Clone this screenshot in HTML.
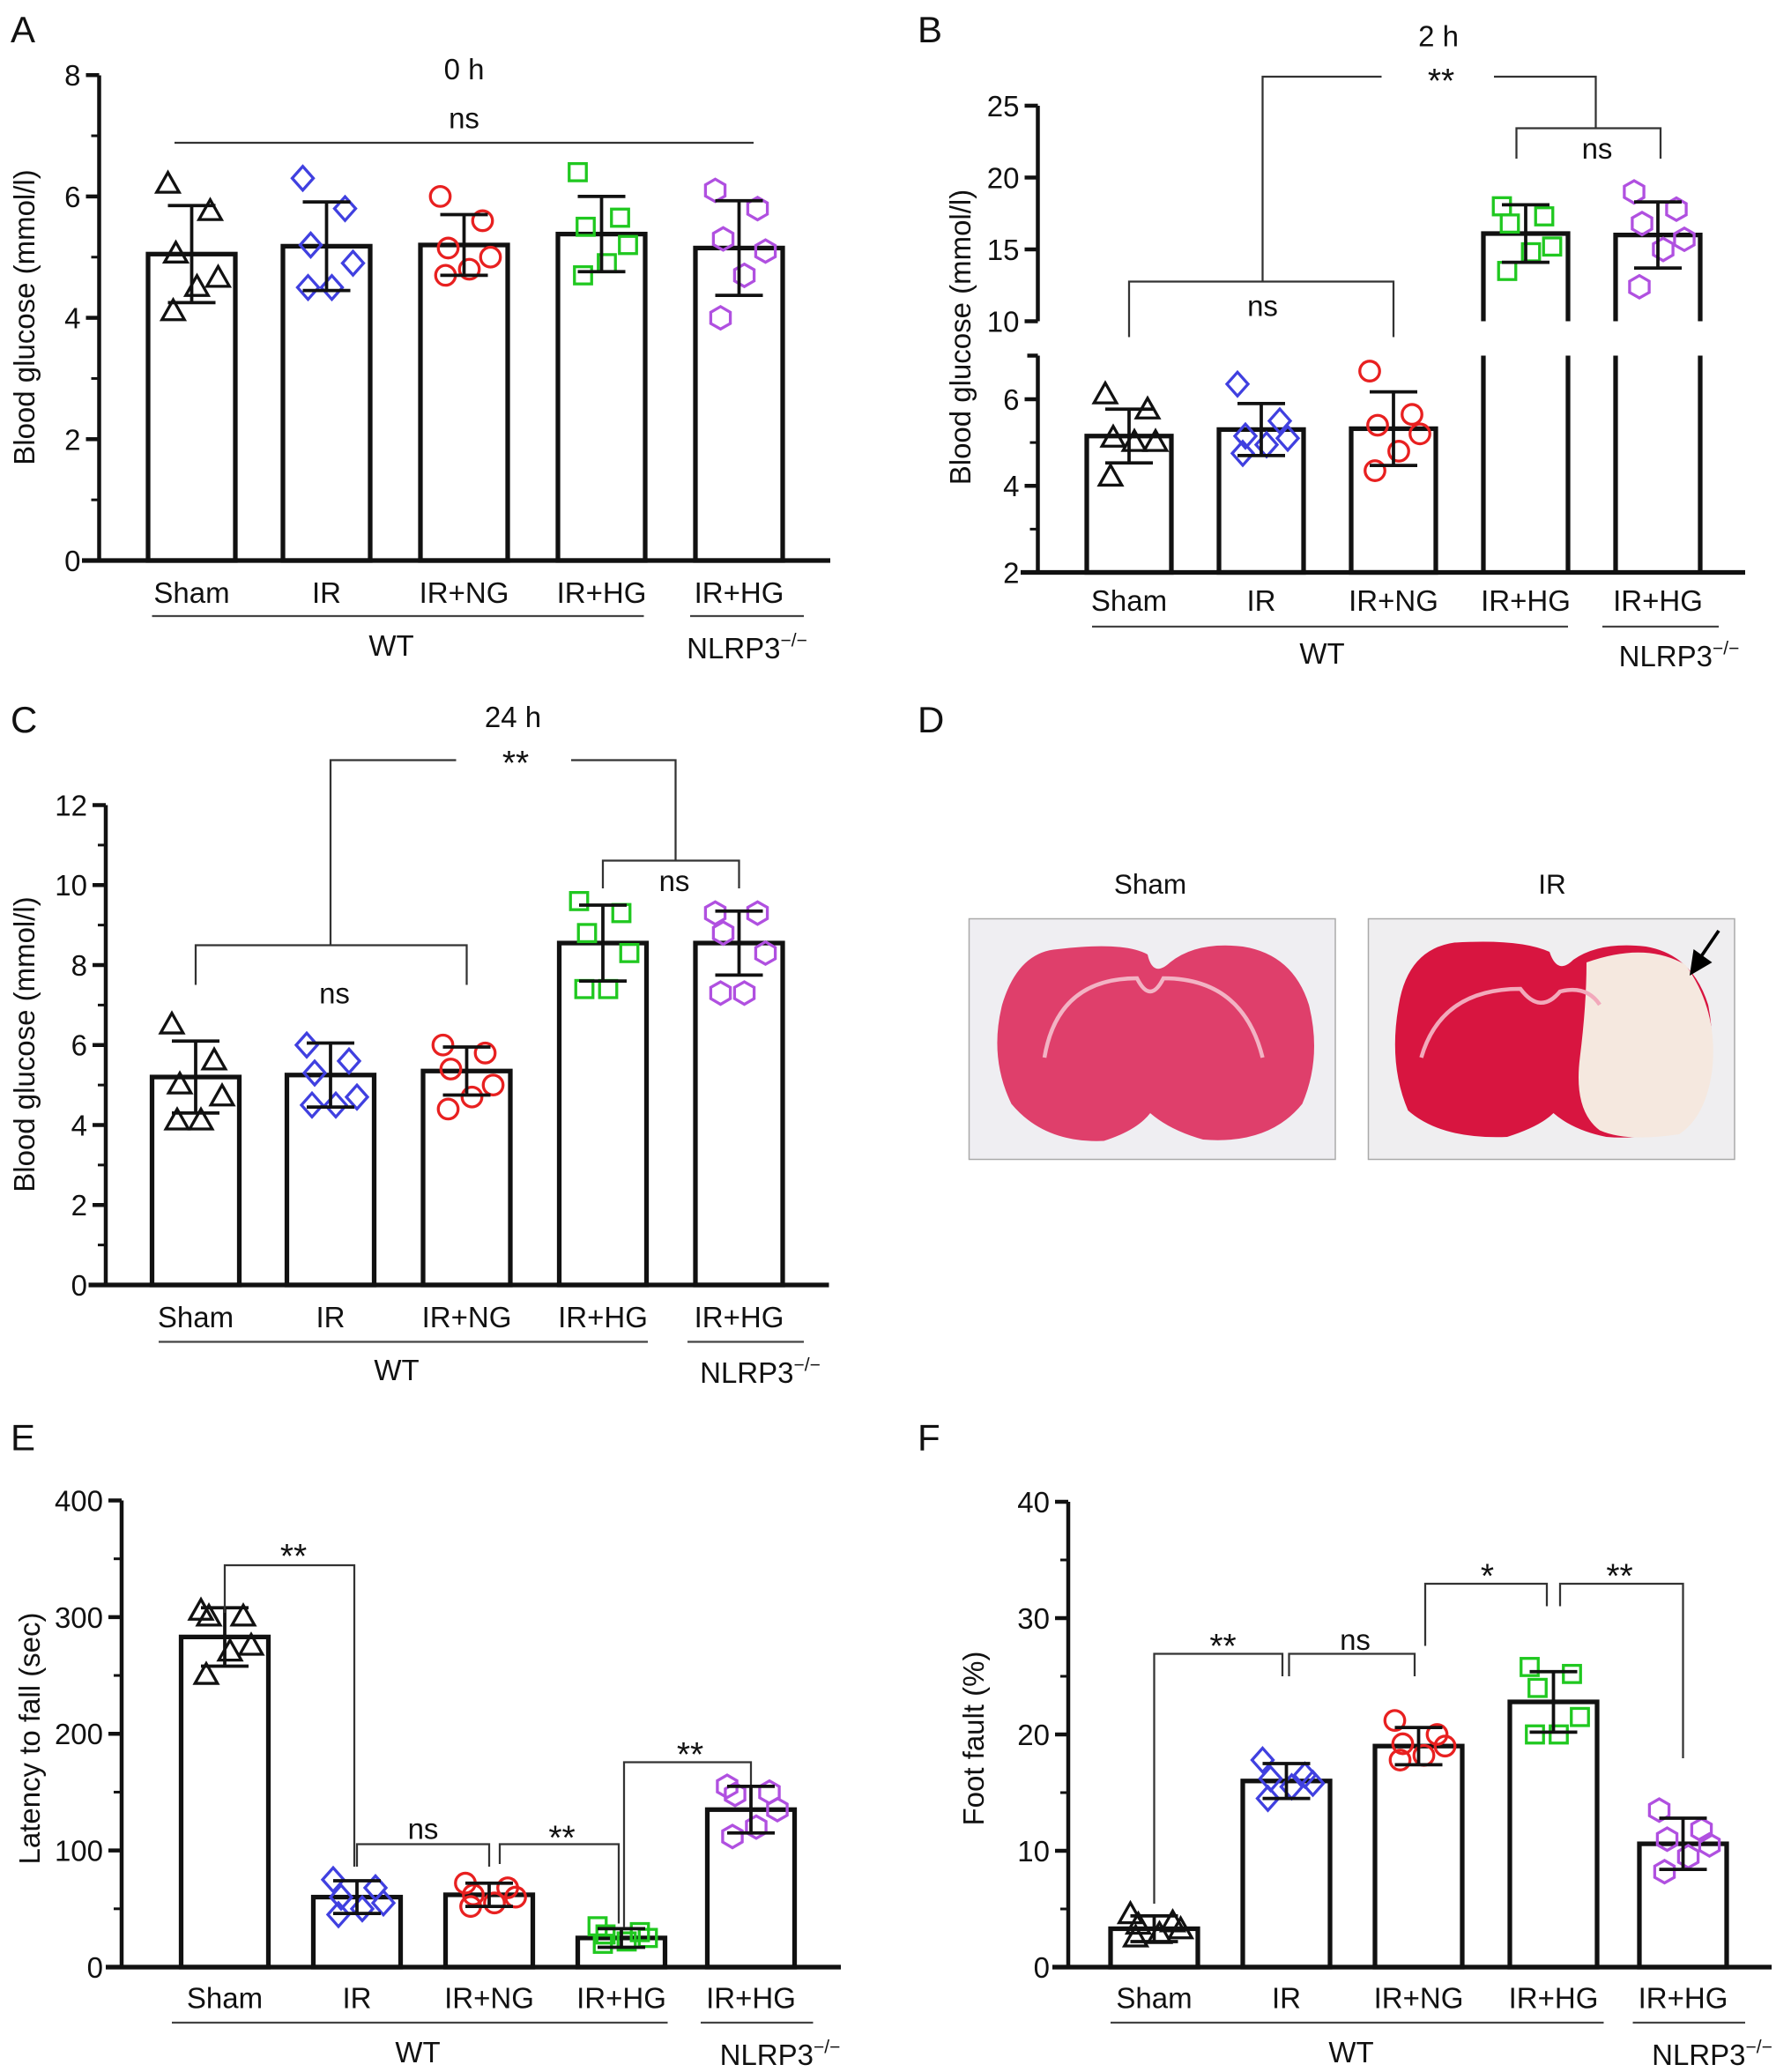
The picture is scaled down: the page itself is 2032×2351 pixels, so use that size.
<!DOCTYPE html>
<html><head><meta charset="utf-8">
<style>
html,body{margin:0;padding:0;background:#fff;}
svg{display:block;}
text{font-family:"Liberation Sans",Arial,sans-serif;fill:#111;}
</style></head>
<body>
<svg id="fig" xmlns="http://www.w3.org/2000/svg" width="2032" height="2351" viewBox="0 0 1354.67 1567.33">
<rect width="1354.67" height="1567.33" fill="#fff"/>
<g id="panelD">
  <text x="694" y="554" font-size="28">D</text>
  <text x="870" y="676" font-size="21" text-anchor="middle">Sham</text>
  <text x="1174" y="676" font-size="21" text-anchor="middle">IR</text>
  <g>
    <rect x="733" y="695" width="277" height="182" fill="#efeef2" stroke="#aaa" stroke-width="1"/>
    <path d="M800 718 Q770 720 758 760 Q748 800 765 835 Q790 865 835 863 Q860 855 870 842 Q885 855 910 862 Q960 866 985 835 Q1000 800 990 760 Q978 722 940 716 Q905 712 885 728 Q872 740 868 722 Q850 712 800 718 Z" fill="#df3f6b"/>
    <path d="M790 800 Q800 740 860 740 Q870 760 880 740 Q940 740 955 800" fill="none" stroke="#f2b3c4" stroke-width="3"/>
  </g>
  <g>
    <rect x="1035" y="695" width="277" height="182" fill="#efeef0" stroke="#aaa" stroke-width="1"/>
    <path d="M1100 713 Q1065 718 1058 760 Q1050 805 1065 840 Q1090 862 1140 860 Q1165 852 1175 842 Q1190 855 1215 860 Q1260 864 1285 838 Q1300 800 1292 760 Q1280 722 1245 716 Q1210 712 1190 726 Q1178 738 1172 720 Q1150 710 1100 713 Z" fill="#d81540"/>
    <path d="M1200 728 Q1245 712 1275 730 Q1300 765 1295 810 Q1290 845 1270 858 Q1230 864 1210 855 Q1190 840 1195 800 Q1200 760 1200 728 Z" fill="#f5e8df"/>
    <path d="M1075 800 Q1090 748 1150 748 Q1165 768 1180 750 Q1200 745 1210 760" fill="none" stroke="#f2a9bb" stroke-width="3"/>
    <line x1="1300" y1="704" x2="1285" y2="726" stroke="#000" stroke-width="2.5"/>
    <polygon points="1278,738 1281,718 1295,728" fill="#000"/>
  </g>
</g>
</svg>
<script>
// ---------- DATA ----------
const categories = ['Sham','IR','IR+NG','IR+HG','IR+HG'];
// Panel A (0 h)
const aMeans = [5.05, 5.18, 5.2, 5.38, 5.15];
const aSD = [0.8, 0.73, 0.5, 0.62, 0.78];
const aPoints = [[6.2,5.75,5.05,4.65,4.5,4.1],[6.3,5.8,5.2,4.9,4.5,4.5],[6.0,5.6,5.15,5.0,4.8,4.7],[6.4,5.65,5.5,5.2,4.9,4.7],[6.1,5.8,5.3,5.1,4.7,4.0]];
const aTicks = [0,2,4,6,8];
// Panel B (2 h)
const bMeans = [5.15, 5.3, 5.32, 16.1, 16.0];
const bSD = [0.62, 0.6, 0.85, 2.0, 2.3];
const bPoints = [[6.1,5.75,5.1,5.0,5.0,4.2],[6.35,5.5,5.15,5.1,4.95,4.75],[6.65,5.65,5.4,5.2,4.8,4.35],[18.0,17.3,16.8,15.2,14.8,13.5],[19.0,17.8,16.8,15.7,15.0,12.4]];
const bTicksLow = [2,4,6];
const bTicksHigh = [10,15,20,25];
// Panel C (24 h)
const cMeans = [5.2, 5.25, 5.35, 8.55, 8.55];
const cSD = [0.9, 0.8, 0.6, 0.95, 0.8];
const cPoints = [[6.5,5.6,5.0,4.7,4.1,4.1],[6.0,5.6,5.3,4.7,4.5,4.5],[6.0,5.8,5.4,5.0,4.7,4.4],[9.6,9.3,8.8,8.3,7.4,7.4],[9.3,9.3,8.8,8.3,7.3,7.3]];
const cTicks = [0,2,4,6,8,10,12];
// Panel E (latency)
const eMeans = [283, 60, 62, 25, 135];
const eSD = [25, 14, 10, 8, 20];
const ePoints = [[305,300,300,275,270,250],[75,68,60,55,50,45],[72,68,62,60,55,52],[35,30,28,25,22,20],[155,150,148,135,120,112]];
const eTicks = [0,100,200,300,400];
// Panel F (foot fault)
const fMeans = [3.3, 16, 19, 22.8, 10.6];
const fSD = [1.1, 1.5, 1.6, 2.6, 2.2];
const fPoints = [[4.5,3.8,3.6,3.2,2.8,2.5],[17.8,16.5,16.2,15.8,15.5,14.5],[21.2,20.0,19.2,19.0,18.2,17.8],[25.8,25.2,24.0,21.5,20.0,20.0],[13.5,11.8,11.0,10.5,9.5,8.2]];
const fTicks = [0,10,20,30,40];

const colors = ['#111','#4040e0','#e82020','#20c820','#b050e0'];
const shapes = ['tri','dia','circ','sq','hex'];
const jit = [-18,14,-12,20,4,-14];

const svg = document.getElementById('fig');
const NS = 'http://www.w3.org/2000/svg';
function el(tag, attrs, parent){ const e=document.createElementNS(NS,tag); for(const k in attrs) e.setAttribute(k,attrs[k]); (parent||svg).appendChild(e); return e; }
function txt(x,y,s,size,anchor,parent){ const t=el('text',{x:x,y:y,'font-size':size,'text-anchor':anchor||'middle'},parent); t.textContent=s; return t; }
function line(x1,y1,x2,y2,w,parent,col){ return el('line',{x1:x1,y1:y1,x2:x2,y2:y2,stroke:col||'#111','stroke-width':w},parent); }

function marker(g,shape,cx,cy,col){
  const a={fill:'none',stroke:col,'stroke-width':2.2};
  let m;
  if(shape==='tri') m=el('polygon',Object.assign({points:`${cx},${cy-9} ${cx-8.5},${cy+6} ${cx+8.5},${cy+6}`},a),g);
  else if(shape==='dia') m=el('polygon',Object.assign({points:`${cx},${cy-9} ${cx+8},${cy} ${cx},${cy+9} ${cx-8},${cy}`},a),g);
  else if(shape==='circ') m=el('circle',Object.assign({cx:cx,cy:cy,r:7.5},a),g);
  else if(shape==='sq') m=el('rect',Object.assign({x:cx-6.5,y:cy-6.5,width:13,height:13},a),g);
  else { let p=[]; for(let i=0;i<6;i++){const an=Math.PI/6+i*Math.PI/3; p.push((cx+8.5*Math.cos(an)).toFixed(1)+','+(cy+8.5*Math.sin(an)).toFixed(1));} m=el('polygon',Object.assign({points:p.join(' ')},a),g); }
  
  
}

function groupLabels(g,xs,labelY,lineY,wt,ko,wtX,koX,groupY){
  categories.forEach((c,i)=>{ const t=txt(xs[i],labelY,c,22,'middle',g);
    
     });
  line(wt[0],lineY,wt[1],lineY,1.5,g,'#444');
  line(ko[0],lineY,ko[1],lineY,1.5,g,'#444');
  const w=txt(wtX,groupY,'WT',22,'middle',g);
  
  
  const k=txt(koX,groupY+2,'NLRP3',22,'middle',g);
  
  
  const s=el('tspan',{'font-size':14,dy:-9},k); s.textContent='−/−';
}

function barsAndPoints(g,xs,bw,y,means,sd,pts,base,broken){
  means.forEach((m,i)=>{
    const x=xs[i], ym=y(m);
    if(broken && m>broken.hi){
      const b=el('path',{d:`M${x-bw/2},${base} V${broken.lowTop} M${x+bw/2},${base} V${broken.lowTop} M${x-bw/2},${broken.hiBot} V${ym} H${x+bw/2} V${broken.hiBot}`,fill:'none',stroke:'#111','stroke-width':3.5},g);
      
      
    } else {
      const b=el('rect',{x:x-bw/2,y:ym,width:bw,height:base-ym,fill:'#fff',stroke:'#111','stroke-width':3.5},g);
      
      
    }
  });
  means.forEach((m,i)=>{
    const x=xs[i];
    pts[i].forEach((v,j)=>marker(g,shapes[i],x+jit[j],y(v),colors[i]));
    const e=el('path',{d:`M${x},${y(m-sd[i])} V${y(m+sd[i])} M${x-18},${y(m+sd[i])} H${x+18} M${x-18},${y(m-sd[i])} H${x+18}`,stroke:'#111','stroke-width':2.5,fill:'none'},g);
    
    
  });
}

function yAxis(g,ax,y,ticks,minor,top,bottom,title,titleX,titleY){
  line(ax,bottom,ax,top,3,g);
  ticks.forEach(t=>{ line(ax-10,y(t),ax,y(t),3,g); txt(ax-14,y(t)+8,String(t),22,'end',g); });
  minor.forEach(t=>line(ax-6,y(t),ax,y(t),2,g));
  const tt=el('text',{x:titleX,y:titleY,'font-size':22,'text-anchor':'middle',transform:`rotate(-90 ${titleX} ${titleY})`},g);
  tt.textContent=title;
  
  
}
function bracket(g,x1,y1,x2,y2,top){ el('path',{d:`M${x1},${y1} V${top} H${x2} V${y2}`,fill:'none',stroke:'#333','stroke-width':1.5},g); }
function sig(g,x,yy,s,size){ const t=txt(x,yy,s,size||22,'middle',g);   return t; }
function panelGroup(name){ const g=el('g',{});   return g; }
function minorsBetween(ticks){ const r=[]; for(let i=0;i<ticks.length-1;i++) r.push((ticks[i]+ticks[i+1])/2); return r; }

// ---------- Panel A ----------
(function(){
  const g=panelGroup('panel-a-chart');
  txt(8,32,'A',28,'start',g);
  const y=v=>424-v*45.9;
  const xs=[145,247,351,455,559];
  yAxis(g,75,y,aTicks,minorsBetween(aTicks),57,424,'Blood glucose (mmol/l)',26,240);
  barsAndPoints(g,xs,66,y,aMeans,aSD,aPoints,424);
  line(62,424,628,424,3.5,g);
  groupLabels(g,xs,456,466,[115,487],[522,608],296,565,496);
  txt(351,60,'0 h',22,'middle',g);
  sig(g,351,97,'ns',22);
  line(132,108,570,108,1.5,g,'#333');
})();

// ---------- Panel B ----------
(function(){
  const g=panelGroup('panel-b-chart');
  txt(694,32,'B',28,'start',g);
  const y=v=> v<=8.5 ? 433-(v-2)*32.75 : 243-(v-10)*10.87;
  const xs=[854,954,1054,1154,1254];
  const ax=785;
  line(ax,433,ax,269,3,g); line(ax-8,269,ax,269,3,g);
  line(ax,243,ax,80,3,g);
  bTicksLow.forEach(t=>{ line(ax-10,y(t),ax,y(t),3,g); txt(ax-14,y(t)+8,String(t),22,'end',g); });
  [3,5].forEach(t=>line(ax-6,y(t),ax,y(t),2,g));
  bTicksHigh.forEach(t=>{ line(ax-10,y(t),ax,y(t),3,g); txt(ax-14,y(t)+8,String(t),22,'end',g); });
  const tt=el('text',{x:734,y:255,'font-size':22,'text-anchor':'middle',transform:'rotate(-90 734 255)'},g);
  tt.textContent='Blood glucose (mmol/l)';
  
  
  barsAndPoints(g,xs,64,y,bMeans,bSD,bPoints,433,{hi:8.5,lowTop:269,hiBot:243});
  line(772,433,1320,433,3.5,g);
  groupLabels(g,xs,462,474,[826,1186],[1212,1300],1000,1270,502);
  txt(1088,35,'2 h',22,'middle',g);
  sig(g,1090,70,'**',26);
  el('path',{d:'M955,213 V58 H1045 M1130,58 H1207 V97',fill:'none',stroke:'#333','stroke-width':1.5},g);
  bracket(g,854,255,1054,255,213);
  sig(g,955,239,'ns',22);
  bracket(g,1147,120,1256,120,97);
  sig(g,1208,120,'ns',22);
})();

// ---------- Panel C ----------
(function(){
  const g=panelGroup('panel-c-chart');
  txt(8,554,'C',28,'start',g);
  const y=v=>972-v*30.25;
  const xs=[148,250,353,456,559];
  yAxis(g,80,y,cTicks,minorsBetween(cTicks),609,972,'Blood glucose (mmol/l)',26,790);
  barsAndPoints(g,xs,66,y,cMeans,cSD,cPoints,972);
  line(67,972,627,972,3.5,g);
  groupLabels(g,xs,1004,1015,[120,490],[520,608],300,575,1044);
  txt(388,550,'24 h',22,'middle',g);
  sig(g,390,586,'**',26);
  el('path',{d:'M250,715 V575 H345 M432,575 H511 V651',fill:'none',stroke:'#333','stroke-width':1.5},g);
  bracket(g,148,745,353,745,715);
  sig(g,253,759,'ns',22);
  bracket(g,456,672,559,672,651);
  sig(g,510,674,'ns',22);
})();

// ---------- Panel E ----------
(function(){
  const g=panelGroup('panel-e-chart');
  txt(8,1097,'E',28,'start',g);
  const y=v=>1488-v*0.8825;
  const xs=[170,270,370,470,568];
  yAxis(g,92,y,eTicks,[50,150,250,350],1135,1488,'Latency to fall (sec)',30,1315);
  barsAndPoints(g,xs,66,y,eMeans,eSD,ePoints,1488);
  line(80,1488,636,1488,3.5,g);
  groupLabels(g,xs,1519,1530,[130,505],[530,615],316,590,1560);
  bracket(g,170,1220,268,1412,1184); sig(g,222,1186,'**',26);
  bracket(g,270,1412,370,1412,1395); sig(g,320,1391,'ns',22);
  bracket(g,378,1410,468,1455,1395); sig(g,425,1399,'**',26);
  bracket(g,472,1458,568,1350,1333); sig(g,522,1336,'**',26);
})();

// ---------- Panel F ----------
(function(){
  const g=panelGroup('panel-f-chart');
  txt(694,1097,'F',28,'start',g);
  const y=v=>1488-v*8.8;
  const xs=[873,973,1073,1175,1273];
  yAxis(g,808,y,fTicks,[5,15,25,35],1136,1488,'Foot fault  (%)',744,1315);
  barsAndPoints(g,xs,66,y,fMeans,fSD,fPoints,1488);
  line(796,1488,1340,1488,3.5,g);
  groupLabels(g,xs,1519,1530,[840,1213],[1235,1320],1022,1295,1560);
  bracket(g,873,1440,970,1268,1251); sig(g,925,1254,'**',26);
  bracket(g,975,1268,1070,1268,1251); sig(g,1025,1248,'ns',22);
  bracket(g,1078,1245,1170,1215,1198); sig(g,1125,1201,'*',26);
  bracket(g,1180,1215,1273,1330,1198); sig(g,1225,1201,'**',26);
})();
</script>
</body></html>
